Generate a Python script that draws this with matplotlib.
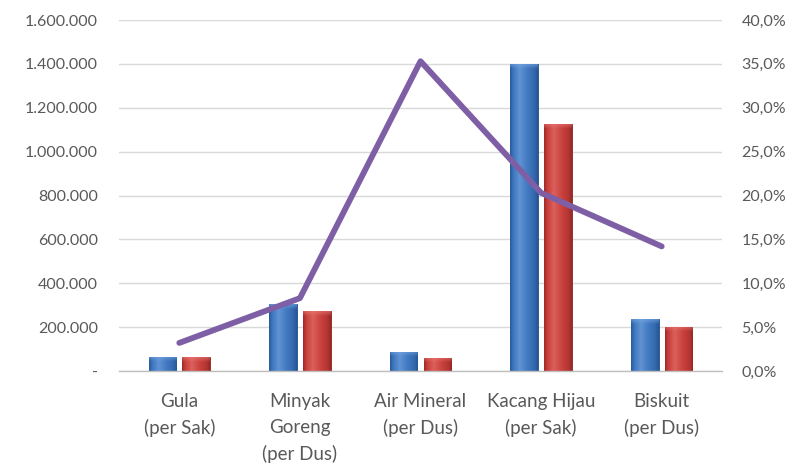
import numpy as np
import matplotlib
matplotlib.use("Agg")
import matplotlib.pyplot as plt
from matplotlib.ticker import FuncFormatter, FixedLocator
from matplotlib.colors import to_rgb

# Data
categories = ["Gula\n(per Sak)", "Minyak\nGoreng\n(per Dus)", "Air Mineral\n(per Dus)",
              "Kacang Hijau\n(per Sak)", "Biskuit\n(per Dus)"]
series_blue = [65000, 305000, 88000, 1400000, 236000]
series_red = [63000, 273000, 61000, 1128000, 202000]
line_pct = [0.032, 0.083, 0.353, 0.203, 0.142]

plt.rcParams['font.family'] = ['Lato', 'DejaVu Sans']
TXT = '#595959'
GRID = '#d9d9d9'

fig = plt.figure(figsize=(7.97, 4.71), dpi=100)
W, H = 797, 471
left_px, right_px, top_px, bot_px = 119, 722, 20, 371
ax = fig.add_axes([left_px / W, (H - bot_px) / H, (right_px - left_px) / W, (bot_px - top_px) / H])

x = np.arange(len(categories))
bw = 0.23
off = 0.14
YMAX = 1600000


def shaded_bars(ax, xs, vals, base, dark, light):
    base, dark, light = map(np.array, map(to_rgb, (base, dark, light)))
    bars = ax.bar(xs, vals, bw, color=base, edgecolor=dark, linewidth=0.6, zorder=2)
    u = np.linspace(0, 1, 64)
    # horizontal cylinder-like profile: dark edges, light band left of centre
    prof = np.interp(u, [0, 0.12, 0.35, 0.6, 0.88, 1.0], [-0.7, 0.0, 0.55, 0.1, -0.35, -0.8])
    px_per_unit = (bot_px - top_px) / YMAX
    for b, v in zip(bars, vals):
        hpx = v * px_per_unit
        n = 200
        rows = np.linspace(1, 0, n)  # top -> bottom
        img = np.zeros((n, len(u), 3))
        for i, r in enumerate(rows):
            depth_px = (1 - r) * hpx
            for j, p in enumerate(prof):
                if p >= 0:
                    c = base + (light - base) * p
                else:
                    c = base + (dark - base) * (-p)
                # bevel highlight on the top rim
                if depth_px < 5:
                    t = 1 - depth_px / 5
                    c = c + (light - c) * 0.6 * t
                img[i, j] = c
        img = np.clip(img, 0, 1)
        x0 = b.get_x()
        im = ax.imshow(img, extent=(x0, x0 + bw, 0, v), aspect='auto', zorder=2.5,
                       interpolation='bilinear')
        im.set_clip_path(b)
    return bars


shaded_bars(ax, x - off, series_blue, '#3F77BE', '#1F4E8C', '#7AAAE6')
shaded_bars(ax, x + off, series_red, '#C9403C', '#8A2220', '#EA7A76')

ax.set_xlim(-0.5, len(categories) - 0.5)
ax.set_ylim(0, YMAX)
ax.yaxis.set_major_locator(FixedLocator(np.arange(0, YMAX + 1, 200000)))


def id_fmt(v, pos):
    if v == 0:
        return '-'
    return f"{int(v):,}".replace(',', '.')


ax.yaxis.set_major_formatter(FuncFormatter(id_fmt))
ax.grid(axis='y', color=GRID, linewidth=1.0, zorder=0)
ax.set_axisbelow(True)
for s in ['top', 'right', 'left']:
    ax.spines[s].set_visible(False)
ax.spines['bottom'].set_color('#bfbfbf')
ax.spines['bottom'].set_linewidth(1.0)
ax.tick_params(axis='y', length=0, pad=15, labelsize=11.5, labelcolor=TXT)
ax.set_xticks(x)
ax.set_xticklabels(categories, linespacing=1.6)
ax.tick_params(axis='x', length=0, pad=16, labelsize=13.5, labelcolor=TXT)

ax2 = ax.twinx()
ax2.set_ylim(0, 0.4)
ax2.yaxis.set_major_locator(FixedLocator(np.arange(0, 0.4001, 0.05)))
ax2.yaxis.set_major_formatter(FuncFormatter(lambda v, p: f"{v * 100:.1f}%".replace('.', ',')))
for s in ax2.spines.values():
    s.set_visible(False)
ax2.tick_params(axis='y', length=0, pad=14, labelsize=11.5, labelcolor=TXT)
ax2.plot(x, line_pct, color='#7E5FA6', linewidth=4.2, solid_capstyle='round',
         solid_joinstyle='round', zorder=5)

fig.savefig('out.png', dpi=100)
